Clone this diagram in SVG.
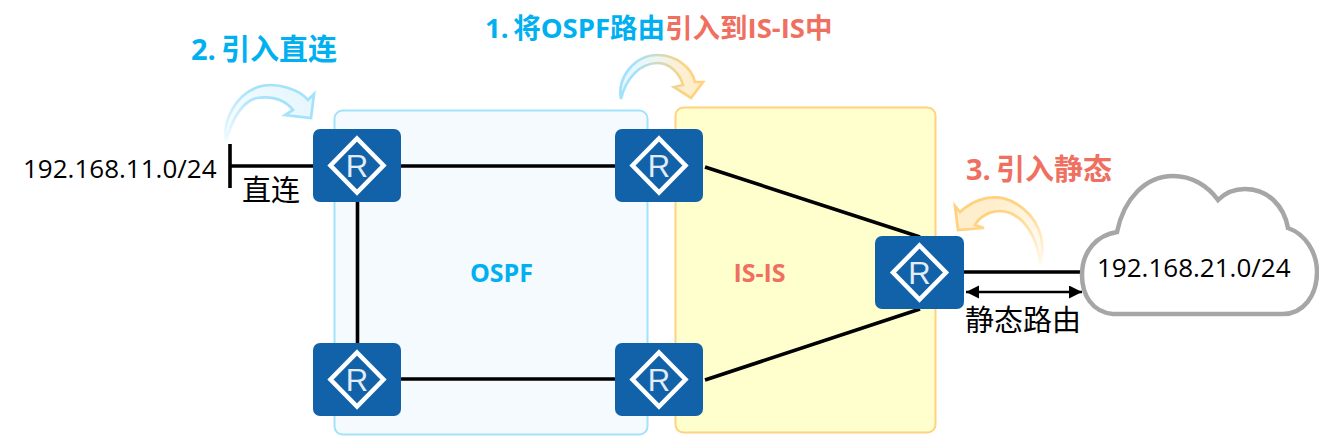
<svg xmlns="http://www.w3.org/2000/svg" width="1319" height="436" viewBox="0 0 1319 436">
<style>
.title{font-size:29px;font-weight:700;word-spacing:-2.500px;font-family:"Open Sans","Noto Sans CJK SC",sans-serif;}
.title1{font-size:27.500px}
.area{font-size:25px}
.lab{font-size:29px;fill:#000;font-family:"Open Sans","Noto Sans CJK SC",sans-serif;}
.ip{font-size:26px}
.c{fill:#00b0f0}.s{fill:#ef6f60}
.body{fill:#1262aa}
.dia{fill:none;stroke:#fff;stroke-width:4.500}
.r{font-family:"Liberation Sans",Arial,sans-serif;font-size:31px;fill:#e3ecf7;text-anchor:middle}
.ln{stroke:#000;stroke-width:3.600;fill:none}
.arw{stroke-width:2.700}
</style>
<defs>
<marker id="ah" markerUnits="userSpaceOnUse" markerWidth="14" markerHeight="14" refX="13" refY="6.500" orient="auto-start-reverse"><path d="M0 0L13 6.500L0 13z" fill="#000"/></marker>
<linearGradient id="g1f" gradientUnits="userSpaceOnUse" x1="226" y1="142" x2="290" y2="95"><stop offset="0" stop-color="#e6f6fe" stop-opacity=".2"/><stop offset="1" stop-color="#e8f7fe"/></linearGradient>
<linearGradient id="g1s" gradientUnits="userSpaceOnUse" x1="226" y1="142" x2="262" y2="92"><stop offset="0" stop-color="#9fe0fa" stop-opacity=".1"/><stop offset="1" stop-color="#a3e2fb"/></linearGradient>
<linearGradient id="g2f" gradientUnits="userSpaceOnUse" x1="640" y1="70" x2="690" y2="70"><stop offset="0" stop-color="#e8f7fe"/><stop offset="1" stop-color="#ffeecb"/></linearGradient>
<linearGradient id="g2s" gradientUnits="userSpaceOnUse" x1="635" y1="70" x2="685" y2="70"><stop offset="0" stop-color="#a3e2fb"/><stop offset="1" stop-color="#ffd27f"/></linearGradient>
<linearGradient id="g3f" gradientUnits="userSpaceOnUse" x1="1040" y1="265" x2="990" y2="208"><stop offset="0" stop-color="#fff3d9" stop-opacity=".2"/><stop offset="1" stop-color="#ffeecb"/></linearGradient>
<linearGradient id="g3s" gradientUnits="userSpaceOnUse" x1="1042" y1="265" x2="1015" y2="205"><stop offset="0" stop-color="#ffd27f" stop-opacity=".05"/><stop offset="1" stop-color="#ffd27f"/></linearGradient>
</defs>

<g id="ospf-area"><rect x="334.500" y="110.500" width="313" height="324" rx="8" fill="#f4fafd" stroke="#a3e2fb" stroke-width="2"/>
<text class="title area c" x="501.500" y="282" text-anchor="middle">OSPF</text></g>
<g id="isis-area"><rect x="675.500" y="107.500" width="260" height="325" rx="8" fill="#ffffcd" stroke="#ffd27f" stroke-width="2"/>
<text class="title area s" x="759.500" y="282" text-anchor="middle">IS-IS</text></g>

<g id="connectors">
<path class="ln" d="M230 144V188M230 166H313M401 166H615M357.500 202V343M401 379H615M705 167L920 237M705 380L920 309M964 272H1084"/>
<path d="M966 292H1082" stroke="#000" stroke-width="2.600" fill="none" marker-start="url(#ah)" marker-end="url(#ah)"/>
</g>

<g id="arrow-direct"><path class="arw" d="M226 142C222 122 235 95 258 87C276 81 300 90 308 100L314 94L311 118L285 115L293 110C285 100 272 96 257 98C243 101 232 118 226 142Z" fill="url(#g1f)" stroke="url(#g1s)"/></g>
<g id="arrow-import"><path class="arw" d="M621 99C617 78 634 55 658 55C676 55 692 68 695 82L703 82L691 98L674 87L683 85C680 74 670 63 658 63C640 63 626 78 621 99Z" fill="url(#g2f)" stroke="url(#g2s)"/></g>
<g id="arrow-static"><path class="arw" d="M1040 265C1047 240 1038 216 1015 203C997 192 975 198 960 212L955 206L958 230L984 228L975 225C982 213 997 208 1010 213C1027 220 1038 240 1040 265Z" fill="url(#g3f)" stroke="url(#g3s)"/></g>

<g id="router-1" transform="translate(313 129)"><rect class="body" width="88" height="73" rx="7"/><path class="dia" d="M44 9.500L70.500 36.500L44 63.500L17.500 36.500Z"/><text class="r" x="44" y="47.500">R</text></g>
<g id="router-2" transform="translate(615 129)"><rect class="body" width="88" height="73" rx="7"/><path class="dia" d="M44 9.500L70.500 36.500L44 63.500L17.500 36.500Z"/><text class="r" x="44" y="47.500">R</text></g>
<g id="router-3" transform="translate(313 343)"><rect class="body" width="88" height="73" rx="7"/><path class="dia" d="M44 9.500L70.500 36.500L44 63.500L17.500 36.500Z"/><text class="r" x="44" y="47.500">R</text></g>
<g id="router-4" transform="translate(615 343)"><rect class="body" width="88" height="73" rx="7"/><path class="dia" d="M44 9.500L70.500 36.500L44 63.500L17.500 36.500Z"/><text class="r" x="44" y="47.500">R</text></g>
<g id="router-5" transform="translate(875 236)"><rect class="body" width="89" height="73" rx="7"/><path class="dia" d="M44.500 9.500L71 36.500L44.500 63.500L18 36.500Z"/><text class="r" x="44.500" y="47.500">R</text></g>

<g id="cloud"><path d="M1113 314C1092 312 1082 295 1082 275C1082 250 1098 235 1117 232C1124 198 1146 176 1173 176C1192 176 1208 186 1218 200C1226 192 1235 189 1245 189C1268 189 1284 206 1288 228C1305 234 1317 252 1317 272C1317 296 1303 314 1283 314Z" fill="#fff" stroke="#a6a6a6" stroke-width="4.500"/>
<text class="lab ip" x="1097" y="277">192.168.21.0/24</text></g>

<g id="labels">
<text class="title title1" x="485" y="38"><tspan class="c">1. 将OSPF路由</tspan><tspan class="s">引入到IS-IS中</tspan></text>
<text class="title c" x="191" y="59.500">2. 引入直连</text>
<text class="title s" x="966" y="180">3. 引入静态</text>
<text class="lab ip" x="23" y="177.500">192.168.11.0/24</text>
<text class="lab" x="242" y="201">直连</text>
<text class="lab" x="965" y="331">静态路由</text>
</g>
</svg>
